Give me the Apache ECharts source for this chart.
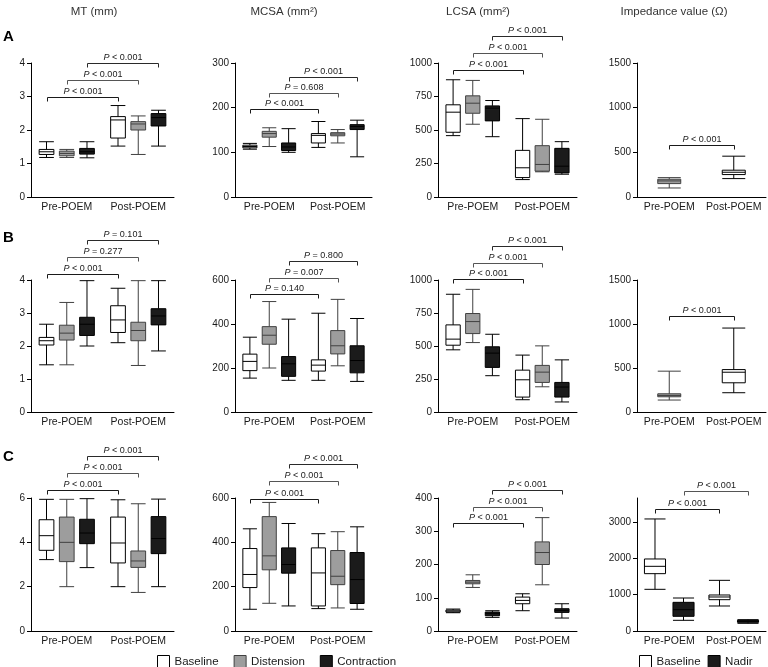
<!DOCTYPE html>
<html><head><meta charset="utf-8">
<script src="https://cdn.jsdelivr.net/npm/echarts@6/dist/echarts.min.js"></script>
<style>html,body{margin:0;padding:0;background:#fff}#chart{width:768px;height:667px}</style>
</head><body><div id="chart"></div><script>
// ---------- data ----------
const categories = ['Pre-POEM', 'Post-POEM'];
const colTitles = ['MT (mm)', 'MCSA (mm²)', 'LCSA (mm²)', 'Impedance value (Ω)'];
const rowLetters = ['A', 'B', 'C'];
const yAxisMax = [[4, 300, 1000, 1500], [4, 600, 1000, 1500], [6, 600, 400, 3660]];
const yAxisInterval = [[1, 100, 250, 500], [1, 200, 250, 500], [2, 200, 100, 1000]];
const impCTickValues = [0, 1000, 2000, 3000];

// box values: [min, Q1, median, Q3, max] for Pre-POEM, Post-POEM
const A_MT_base = [[1.18, 1.27, 1.35, 1.42, 1.65], [1.52, 1.76, 2.30, 2.40, 2.73]];
const A_MT_dist = [[1.18, 1.23, 1.30, 1.37, 1.42], [1.27, 2.00, 2.18, 2.25, 2.42]];
const A_MT_cont = [[1.17, 1.28, 1.35, 1.45, 1.65], [1.52, 2.12, 2.37, 2.49, 2.59]];
const A_MCSA_base = [[107, 110, 113, 116, 120], [111, 121, 138, 142, 169]];
const A_MCSA_dist = [[113, 134, 142, 147, 155], [121, 137, 141, 144, 151]];
const A_MCSA_cont = [[100, 104, 112, 121, 153], [90, 151, 158, 162, 172]];
const A_LCSA_base = [[458, 483, 633, 688, 875], [130, 145, 218, 348, 585]];
const A_LCSA_dist = [[543, 625, 700, 755, 870], [188, 193, 243, 383, 580]];
const A_LCSA_cont = [[450, 568, 663, 680, 720], [170, 180, 230, 363, 413]];
const A_IMP = [[101, 150, 180, 199, 217], [206, 251, 277, 300, 457]];

const B_MT_base = [[1.43, 2.03, 2.16, 2.26, 2.66], [2.10, 2.41, 2.79, 3.22, 3.75]];
const B_MT_dist = [[1.43, 2.18, 2.39, 2.63, 3.32], [1.41, 2.16, 2.47, 2.72, 3.98]];
const B_MT_cont = [[2.00, 2.32, 2.66, 2.87, 3.98], [1.85, 2.64, 2.91, 3.13, 3.98]];
const B_MCSA_base = [[154, 188, 230, 263, 340], [144, 186, 213, 237, 449]];
const B_MCSA_dist = [[200, 308, 349, 388, 502], [210, 264, 301, 370, 512]];
const B_MCSA_cont = [[144, 162, 219, 252, 422], [139, 178, 234, 301, 425]];
const B_LCSA_base = [[471, 506, 552, 660, 892], [93, 113, 244, 317, 431]];
const B_LCSA_dist = [[526, 594, 685, 746, 929], [191, 224, 302, 353, 501]];
const B_LCSA_cont = [[275, 338, 446, 494, 589], [76, 113, 189, 224, 395]];
const B_IMP = [[136, 173, 188, 207, 464], [219, 332, 452, 482, 954]];

const C_MT_base = [[3.22, 3.64, 4.30, 5.02, 5.94], [2.00, 3.07, 3.97, 5.14, 5.92]];
const C_MT_dist = [[2.00, 3.13, 4.00, 5.14, 5.94], [1.74, 2.87, 3.16, 3.61, 5.74]];
const C_MT_cont = [[2.86, 3.94, 4.42, 5.04, 5.97], [2.00, 3.49, 4.17, 5.16, 5.95]];
const C_MCSA_base = [[98, 196, 255, 372, 461], [101, 113, 262, 375, 439]];
const C_MCSA_dist = [[125, 276, 339, 516, 580], [104, 209, 247, 363, 448]];
const C_MCSA_cont = [[113, 261, 300, 375, 485], [98, 124, 232, 354, 470]];
const C_LCSA_base = [[55, 57, 60, 63, 66], [61, 82, 92, 102, 112]];
const C_LCSA_dist = [[131, 142, 147, 152, 169], [139, 200, 236, 268, 341]];
const C_LCSA_cont = [[41, 46, 52, 57, 61], [39, 56, 62, 67, 82]];
const C_IMP_base = [[1147, 1578, 1780, 1982, 3083], [688, 862, 936, 991, 1394]];
const C_IMP_nadir = [[294, 404, 587, 789, 908], [211, 239, 266, 294, 312]];

// brackets: [series slot, bracket value, p text]
const A_MT_p = [[0, 3.0, '< 0.001'], [1, 3.5, '< 0.001'], [2, 4.0, '< 0.001']];
const A_MCSA_p = [[0, 196, '< 0.001'], [1, 232, '= 0.608'], [2, 268, '< 0.001']];
const A_LCSA_p = [[0, 945, '< 0.001'], [1, 1075, '< 0.001'], [2, 1200, '< 0.001']];
const A_IMP_p = [[0, 580, '< 0.001']];
const B_MT_p = [[0, 4.19, '< 0.001'], [1, 4.71, '= 0.277'], [2, 5.21, '= 0.101']];
const B_MCSA_p = [[0, 535, '= 0.140'], [1, 609, '= 0.007'], [2, 686, '= 0.800']];
const B_LCSA_p = [[0, 1005, '< 0.001'], [1, 1131, '< 0.001'], [2, 1257, '< 0.001']];
const B_IMP_p = [[0, 1086, '< 0.001']];
const C_MT_p = [[0, 6.38, '< 0.001'], [1, 7.13, '< 0.001'], [2, 7.88, '< 0.001']];
const C_MCSA_p = [[0, 594, '< 0.001'], [1, 677, '< 0.001'], [2, 755, '< 0.001']];
const C_LCSA_p = [[0, 325, '< 0.001'], [1, 372, '< 0.001'], [2, 425, '< 0.001']];
const C_IMP_p = [[0, 3367, '< 0.001'], [1, 3844, '< 0.001']];

// ---------- panel assembly ----------
const three = (b, d, c) => [['Baseline', b], ['Distension', d], ['Contraction', c]];
const panelSeries = [
  [three(A_MT_base, A_MT_dist, A_MT_cont), three(A_MCSA_base, A_MCSA_dist, A_MCSA_cont), three(A_LCSA_base, A_LCSA_dist, A_LCSA_cont), [['Baseline', A_IMP]]],
  [three(B_MT_base, B_MT_dist, B_MT_cont), three(B_MCSA_base, B_MCSA_dist, B_MCSA_cont), three(B_LCSA_base, B_LCSA_dist, B_LCSA_cont), [['Baseline', B_IMP]]],
  [three(C_MT_base, C_MT_dist, C_MT_cont), three(C_MCSA_base, C_MCSA_dist, C_MCSA_cont), three(C_LCSA_base, C_LCSA_dist, C_LCSA_cont), [['Baseline', C_IMP_base], ['Nadir', C_IMP_nadir]]]
];
const panelBrackets = [
  [A_MT_p, A_MCSA_p, A_LCSA_p, A_IMP_p],
  [B_MT_p, B_MCSA_p, B_LCSA_p, B_IMP_p],
  [C_MT_p, C_MCSA_p, C_LCSA_p, C_IMP_p]
];

// ---------- layout / style ----------
const FONT = '"Liberation Sans", Arial, Helvetica, sans-serif';
const TXT = '#1a1a1a';
const colLeft = [31, 235, 438, 637], colWidth = [143, 137, 139, 129];
const rowTop = [63, 280, 498], rowHeight = [134, 132, 133];
const titleX = [94, 284, 478, 674];
const letterY = [37, 238, 457];
const seriesStyle = {
  Baseline: { color: '#ffffff', borderColor: '#000000' },
  Distension: { color: '#9d9d9d', borderColor: '#404040' },
  Contraction: { color: '#1b1b1b', borderColor: '#000000' },
  Nadir: { color: '#1b1b1b', borderColor: '#000000' }
};
const grayFill = { color: '#9d9d9d', borderColor: '#404040' };
const bracketColor = ['#1a1a1a', '#555555', '#2a2a2a'];

function slotOffset(bw, n, slot) {
  const avail = bw * 0.8 - 2;
  const gap = avail / n * 0.3;
  const boxW = (avail - gap * (n - 1)) / n;
  return boxW / 2 - avail / 2 + slot * (gap + boxW);
}

const grids = [], xAxes = [], yAxes = [], series = [];
const graphics = [];
for (let r = 0; r < 3; r++) {
  for (let c = 0; c < 4; c++) {
    const gi = grids.length;
    grids.push({ left: colLeft[c], top: rowTop[r], width: colWidth[c], height: rowHeight[r], containLabel: false });
    xAxes.push({
      type: 'category', gridIndex: gi, data: categories, boundaryGap: true,
      axisLine: { lineStyle: { color: '#000', width: 1 } },
      axisTick: { length: 4, lineStyle: { color: '#000' } },
      axisLabel: { interval: 0, fontSize: 10.5, color: TXT, margin: 5, fontFamily: FONT },
      splitLine: { show: false }
    });
    const isImpC = (r === 2 && c === 3);
    const yAx = {
      type: 'value', gridIndex: gi, min: 0, max: yAxisMax[r][c], interval: yAxisInterval[r][c],
      axisLine: { show: true, lineStyle: { color: '#000', width: 1 } },
      axisTick: { show: true, length: 4, lineStyle: { color: '#000' } },
      axisLabel: { fontSize: 10, color: TXT, margin: 6, fontFamily: FONT, formatter: v => String(v) },
      splitLine: { show: false }
    };
    if (isImpC) {
      yAx.axisTick.customValues = impCTickValues;
      yAx.axisLabel.customValues = impCTickValues;
      yAx.axisLabel.formatter = v => (impCTickValues.indexOf(v) >= 0 ? String(v) : '');
    }
    yAxes.push(yAx);

    const sList = panelSeries[r][c];
    const n = sList.length;
    sList.forEach(([name, vals]) => {
      const st = seriesStyle[name];
      const data = vals.map((v, i) => {
        if (c === 3 && r < 2 && i === 0) return { value: v, itemStyle: grayFill };
        return v;
      });
      const s = {
        type: 'boxplot', name, xAxisIndex: gi, yAxisIndex: gi, data,
        itemStyle: { color: st.color, borderColor: st.borderColor, borderWidth: 1 },
        emphasis: { disabled: true },
        silent: true, z: 3
      };
      if (c === 3 && r < 2) s.boxWidth = [23, 23];
      series.push(s);
    });

    const br = panelBrackets[r][c];
    series.push({
      type: 'custom', xAxisIndex: gi, yAxisIndex: gi, silent: true, clip: false, z: 5,
      data: br.map(b => [0, b[1]]),
      encode: { x: 0, y: 1 },
      renderItem: (params, api) => {
        const b = br[params.dataIndex];
        const bw = api.size([1, 0])[0];
        const off = slotOffset(bw, n, b[0]);
        const p0 = api.coord([0, b[1]]);
        const p1 = api.coord([1, b[1]]);
        const x0 = Math.round(p0[0] + off) + 0.5, x1 = Math.round(p1[0] + off) + 0.5;
        const y = Math.round(p0[1]) + 0.5;
        const col = bracketColor[b[0]];
        return {
          type: 'group',
          children: [
            { type: 'polyline', shape: { points: [[x0, y + 4], [x0, y], [x1, y], [x1, y + 4]] },
              style: { stroke: col, fill: null, lineWidth: 1 } },
            { type: 'text', x: (x0 + x1) / 2, y: y - 1.5,
              style: { text: '{i|P} ' + b[2], fill: TXT, fontSize: 9, fontFamily: FONT,
                align: 'center', verticalAlign: 'bottom',
                rich: { i: { fontStyle: 'italic', fontSize: 9, fontFamily: FONT, fill: TXT } } } }
          ]
        };
      }
    });
  }
}

colTitles.forEach((t, i) => graphics.push({
  type: 'text', x: titleX[i], y: 12,
  style: { text: t, fill: '#333', fontSize: 11.5, fontFamily: FONT, align: 'center', verticalAlign: 'middle' }
}));
rowLetters.forEach((t, i) => graphics.push({
  type: 'text', x: 3, y: letterY[i],
  style: { text: t, fill: '#000', fontSize: 15, fontWeight: 'bold', fontFamily: FONT, align: 'left', verticalAlign: 'middle' }
}));

const legendText = { fontSize: 11.5, color: TXT, fontFamily: FONT };
const option = {
  backgroundColor: '#fff',
  animation: false,
  grid: grids, xAxis: xAxes, yAxis: yAxes, series,
  graphic: graphics,
  legend: [
    { left: 157, top: 655, padding: 0, itemWidth: 12, itemHeight: 12, itemGap: 15, icon: 'rect', selectedMode: false,
      textStyle: legendText,
      data: ['Baseline', 'Distension', 'Contraction'].map(nm => ({ name: nm, itemStyle: { color: seriesStyle[nm].color, borderColor: seriesStyle[nm].borderColor, borderWidth: 1 } })) },
    { left: 639, top: 655, padding: 0, itemWidth: 12, itemHeight: 12, itemGap: 7, icon: 'rect', selectedMode: false,
      textStyle: legendText,
      data: ['Baseline', 'Nadir'].map(nm => ({ name: nm, itemStyle: { color: seriesStyle[nm].color, borderColor: seriesStyle[nm].borderColor, borderWidth: 1 } })) }
  ]
};
const chart = echarts.init(document.getElementById('chart'), null, { renderer: 'canvas' });
chart.setOption(option);
</script></body></html>
